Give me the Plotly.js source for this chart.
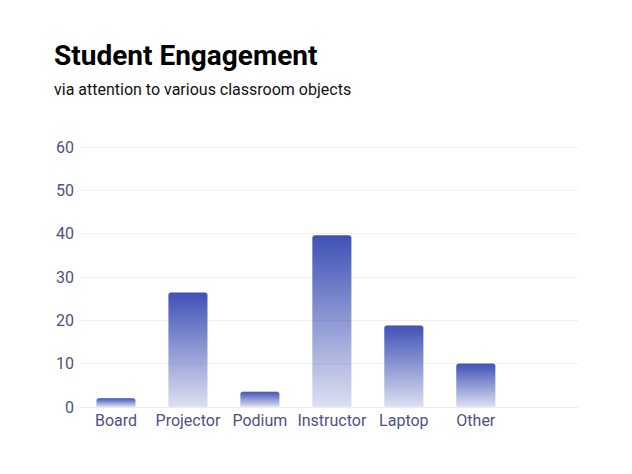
<!DOCTYPE html>
<html>
<head>
<meta charset="utf-8">
<script src="https://cdn.plot.ly/plotly-3.0.1.min.js"></script>
<style>
  html, body { margin: 0; padding: 0; background: #fff; }
  #chart { width: 632px; height: 474px; }
</style>
</head>
<body>
<svg width="0" height="0" style="position:absolute">
  <defs>
    <linearGradient id="barGrad" x1="0" y1="0" x2="0" y2="1">
      <stop offset="0%" stop-color="#3f51b5" stop-opacity="1"/>
      <stop offset="100%" stop-color="#3f51b5" stop-opacity="0.18"/>
    </linearGradient>
  </defs>
</svg>
<div id="chart"></div>
<script>
const categories = ["Board", "Projector", "Podium", "Instructor", "Laptop", "Other"];
const engagement = [2.1, 26.5, 3.6, 39.7, 18.9, 10.1];
const yTicks = [0, 10, 20, 30, 40, 50, 60];

const tickColor = "#4c5282";

const trace = {
  type: "bar",
  x: categories,
  y: engagement,
  width: 0.55,
  marker: {
    color: "#3f51b5",
    line: { width: 1, color: "rgba(255,255,255,0.45)" }
  },
  hoverinfo: "x+y"
};

const layout = {
  width: 632,
  height: 474,
  margin: { l: 80, r: 54, t: 145, b: 67 },
  paper_bgcolor: "#ffffff",
  plot_bgcolor: "#ffffff",
  barcornerradius: 3,
  showlegend: false,
  font: { family: "Roboto, sans-serif", color: tickColor },
  xaxis: {
    type: "category",
    categoryorder: "array",
    categoryarray: categories,
    range: [-0.5, 6.42],
    showgrid: false,
    zeroline: false,
    showline: false,
    ticks: "",
    ticklabelstandoff: 2,
    tickfont: { size: 16, color: tickColor, family: "Roboto, sans-serif" },
    fixedrange: true
  },
  yaxis: {
    range: [0, 60.5],
    tickvals: yTicks,
    ticktext: yTicks.map(String),
    showgrid: true,
    gridcolor: "#f0f0f2",
    gridwidth: 1,
    zeroline: true,
    zerolinecolor: "#ebebef",
    zerolinewidth: 1,
    showline: false,
    ticks: "",
    ticklabelstandoff: 5,
    tickfont: { size: 16, color: tickColor, family: "Roboto, sans-serif" },
    fixedrange: true
  },
  annotations: [
    {
      text: "<b>Student Engagement</b>",
      xref: "paper", yref: "paper",
      x: (52 - 80) / 498, y: (407 - 55) / 262,
      xanchor: "left", yanchor: "middle",
      showarrow: false,
      font: { family: "Roboto, sans-serif", size: 28, color: "#000000" }
    },
    {
      text: "via attention to various classroom objects",
      xref: "paper", yref: "paper",
      x: (52 - 80) / 498, y: (407 - 89) / 262,
      xanchor: "left", yanchor: "middle",
      showarrow: false,
      font: { family: "Roboto, sans-serif", size: 16, color: "#111111" }
    }
  ]
};

function applyGradient() {
  document.querySelectorAll("#chart .bars .point path").forEach(p => {
    p.style.fill = "url(#barGrad)";
    p.style.fillOpacity = "1";
  });
}

Plotly.newPlot("chart", [trace], layout, { displayModeBar: false, staticPlot: true }).then(gd => {
  applyGradient();
  gd.on("plotly_afterplot", applyGradient);
});
</script>
</body>
</html>
